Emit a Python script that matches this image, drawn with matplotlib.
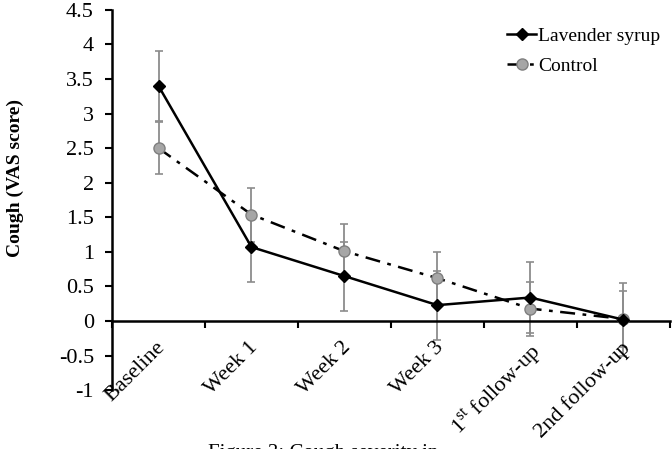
import matplotlib
matplotlib.use("Agg")
import matplotlib.pyplot as plt
import numpy as np

categories = ["Baseline", "Week 1", "Week 2", "Week 3",
              r"1$^{\mathrm{st}}$ follow-up", "2nd follow-up"]
lavender = [3.40, 1.07, 0.65, 0.23, 0.34, 0.02]
lavender_err = [0.50, 0.50, 0.50, 0.50, 0.52, 0.53]
control = [2.50, 1.54, 1.01, 0.62, 0.18, 0.03]
control_err = [0.38, 0.39, 0.39, 0.38, 0.39, 0.40]
yticks = [-1, -0.5, 0, 0.5, 1, 1.5, 2, 2.5, 3, 3.5, 4, 4.5]

plt.rcParams['font.family'] = ['Liberation Serif', 'DejaVu Serif']
plt.rcParams['mathtext.fontset'] = 'custom'
plt.rcParams['mathtext.rm'] = 'Liberation Serif'

fig = plt.figure(figsize=(6.72, 4.49), dpi=100)
ax = fig.add_axes([0.1667, 0.131, 0.830, 0.847])

x = np.arange(len(categories))
ax.errorbar(x, lavender, yerr=lavender_err, fmt='none', ecolor='#8c8c8c',
            elinewidth=1.3, capsize=3, capthick=1.2, zorder=2)
ax.errorbar(x, control, yerr=control_err, fmt='none', ecolor='#8c8c8c',
            elinewidth=1.3, capsize=3, capthick=1.2, zorder=2)
ax.plot(x, lavender, color='black', lw=1.8, marker='D', ms=6,
        mfc='black', mec='black', zorder=4, label='Lavender syrup')
ax.plot(x, control, color='black', lw=1.8, ls=(0, (6, 3, 1.5, 3)), marker='o', ms=8,
        mfc='#a6a6a6', mec='#7f7f7f', mew=1, zorder=3, label='Control')

ax.set_xlim(-0.5, 5.5)
ax.set_ylim(-1, 4.5)
ax.set_yticks(yticks)
ax.set_yticklabels([f"{t:g}" for t in yticks], fontsize=16)
ax.tick_params(axis='y', direction='out', length=5, width=1.5, pad=8)
ax.set_xticks(np.arange(-0.5, 6.0, 1.0))
ax.set_xticklabels([])
ax.tick_params(axis='x', direction='out', length=5, width=1.5)
ax.spines['bottom'].set_position(('data', 0))
ax.spines['top'].set_visible(False)
ax.spines['right'].set_visible(False)
ax.spines['left'].set_linewidth(1.8)
ax.spines['bottom'].set_linewidth(1.8)

for xi, lab in zip(x, categories):
    ax.text(xi - 0.03, -0.25, lab, rotation=45, ha='right', va='top',
            rotation_mode='anchor', fontsize=16)

ax.set_ylabel('Cough (VAS score)', fontsize=14, fontweight='bold')
ax.yaxis.set_label_coords(-0.158, 0.558)

leg = ax.legend(loc='upper right', bbox_to_anchor=(1.004, 0.985), frameon=False,
                fontsize=14, handlelength=1.5, handletextpad=0.1,
                labelspacing=0.65, borderaxespad=0.2)

fig.text(208 / 672, 0.012, 'Figure 3: Cough severity in', ha='left', va='top',
         fontsize=15)

fig.savefig('out.png', dpi=100)
